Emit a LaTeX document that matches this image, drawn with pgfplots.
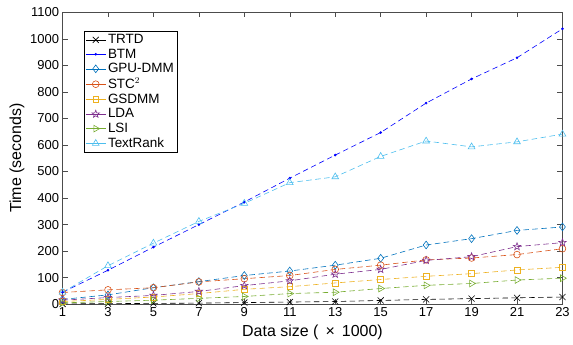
\documentclass[border=0pt]{standalone}
\usepackage{fontspec}
\setmainfont{Liberation Sans}
\usepackage{pgfplots}
\pgfplotsset{compat=1.18}
\usetikzlibrary{plotmarks}
\definecolor{mblue}{rgb}{0,0.447,0.741}
\definecolor{morange}{rgb}{0.85,0.325,0.098}
\definecolor{myellow}{rgb}{0.929,0.694,0.125}
\definecolor{mpurple}{rgb}{0.494,0.184,0.556}
\definecolor{mgreen}{rgb}{0.466,0.674,0.188}
\definecolor{mcyan}{rgb}{0.301,0.745,0.933}
\pgfdeclareplotmark{pentagram}{%
  \pgfpathmoveto{\pgfqpointpolar{90}{\pgfplotmarksize}}%
  \pgfpathlineto{\pgfqpointpolar{126}{0.42\pgfplotmarksize}}%
  \pgfpathlineto{\pgfqpointpolar{162}{\pgfplotmarksize}}%
  \pgfpathlineto{\pgfqpointpolar{198}{0.42\pgfplotmarksize}}%
  \pgfpathlineto{\pgfqpointpolar{234}{\pgfplotmarksize}}%
  \pgfpathlineto{\pgfqpointpolar{270}{0.42\pgfplotmarksize}}%
  \pgfpathlineto{\pgfqpointpolar{306}{\pgfplotmarksize}}%
  \pgfpathlineto{\pgfqpointpolar{342}{0.42\pgfplotmarksize}}%
  \pgfpathlineto{\pgfqpointpolar{18}{\pgfplotmarksize}}%
  \pgfpathlineto{\pgfqpointpolar{54}{0.42\pgfplotmarksize}}%
  \pgfpathclose\pgfusepathqstroke}
\begin{document}
\begin{tikzpicture}
\begin{axis}[
  scale only axis, width=501.3pt, height=292.6pt,
  xmin=1, xmax=23, ymin=0, ymax=1100,
  xtick={1,3,...,23}, ytick={0,100,...,1100},
  tick align=inside, major tick length=5pt,
  tick style={black!70, line width=0.5pt},
  axis line style={black!70, line width=0.6pt},
  /pgf/number format/assume math mode=true,
  /pgf/number format/set thousands separator={},
  tick label style={font=\fontsize{13}{15}\selectfont},
  label style={font=\fontsize{16}{19}\selectfont},
  xlabel={Data size ( \,×\, 1000)},
  ylabel={Time (seconds)},
  xlabel style={yshift=-1pt},
  ylabel style={yshift=-1pt},
  clip=false,
  every axis plot/.append style={line width=0.6pt, dash pattern=on 5.5pt off 3.5pt, mark size=3.4pt},
  legend style={at={(0.043,0.936)}, anchor=north west, draw=black, line width=0.5pt,
    font=\fontsize{13.5}{15}\selectfont, row sep=-0.3pt, inner sep=1.2pt,
    cells={anchor=west}},
  legend cell align=left,
  legend image post style={solid},
  legend image code/.code={\draw[#1] (0pt,0pt) -- (20pt,0pt); \draw[#1, mark repeat=1] plot coordinates {(10pt,0pt)};},
]
\path ([xshift=-62.7pt,yshift=-40pt]rel axis cs:0,0) rectangle ([xshift=9pt,yshift=12.4pt]rel axis cs:1,1);
\addplot[black, mark=x, mark size=4.3pt, mark options={solid}] coordinates {(1,1)(3,2)(5,3)(7,4)(9,6)(11,8)(13,10)(15,14)(17,18)(19,21)(21,24)(23,27)};
\addlegendentry{TRTD}
\addplot[blue, mark=*, mark size=1pt, mark options={solid}] coordinates {(1,45)(3,128)(5,215)(7,300)(9,385)(11,475)(13,562)(15,647)(17,758)(19,849)(21,929)(23,1038)};
\addlegendentry{BTM}
\addplot[mblue, mark=diamond, mark size=3.9pt, mark options={solid}] coordinates {(1,18)(3,35)(5,62)(7,85)(9,108)(11,125)(13,147)(15,173)(17,223)(19,247)(21,278)(23,291)};
\addlegendentry{GPU-DMM}
\addplot[morange, mark=o, mark options={solid}] coordinates {(1,44)(3,54)(5,62)(7,84)(9,96)(11,108)(13,131)(15,147)(17,167)(19,174)(21,187)(23,209)};
\addlegendentry{STC$^2$}
\addplot[myellow, mark=square, mark size=2.9pt, mark options={solid}] coordinates {(1,10)(3,18)(5,27)(7,40)(9,56)(11,66)(13,80)(15,93)(17,105)(19,115)(21,129)(23,139)};
\addlegendentry{GSDMM}
\addplot[mpurple, mark=pentagram, mark size=3.9pt, mark options={solid}] coordinates {(1,15)(3,25)(5,33)(7,48)(9,70)(11,88)(13,113)(15,131)(17,165)(19,179)(21,217)(23,232)};
\addlegendentry{LDA}
\addplot[mgreen, mark=triangle, mark size=3.9pt, mark options={solid, rotate=-90}] coordinates {(1,5)(3,10)(5,15)(7,22)(9,29)(11,40)(13,45)(15,59)(17,71)(19,78)(21,91)(23,98)};
\addlegendentry{LSI}
\addplot[mcyan, mark=triangle, mark size=3.9pt, mark options={solid}] coordinates {(1,45)(3,145)(5,230)(7,312)(9,380)(11,458)(13,480)(15,557)(17,615)(19,593)(21,612)(23,641)};
\addlegendentry{TextRank}
\end{axis}
\end{tikzpicture}
\end{document}
